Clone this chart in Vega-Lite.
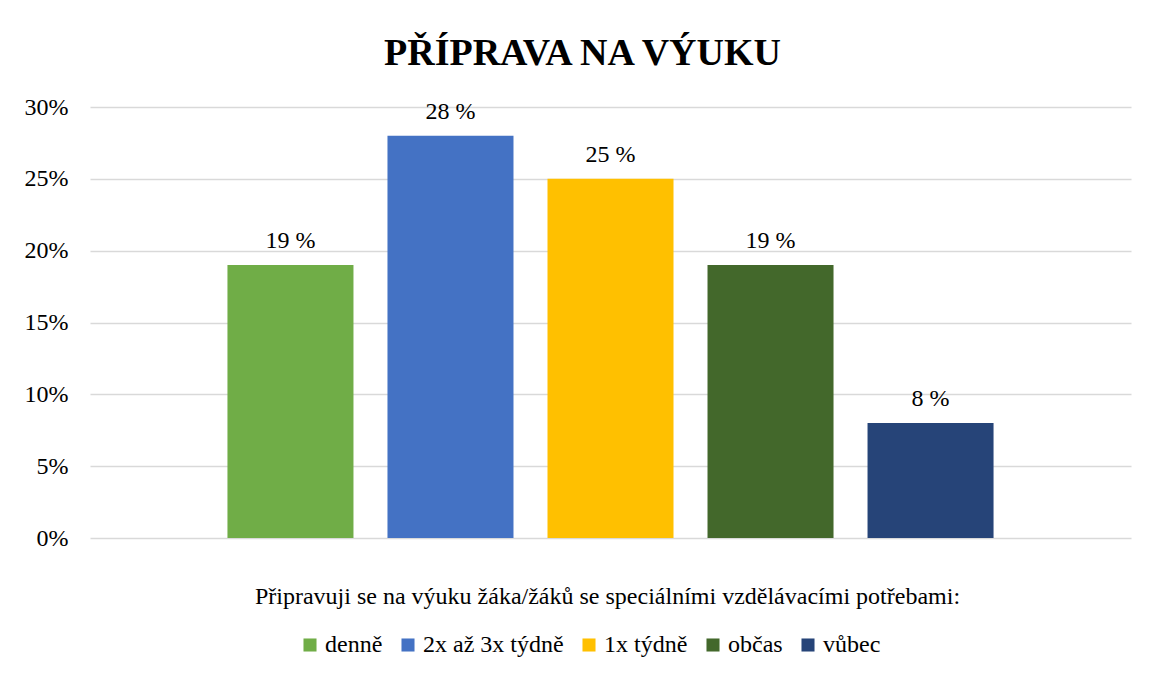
{
  "$schema": "https://vega.github.io/schema/vega-lite/v6.json",
  "autosize": "none",
  "padding": {"left": 90, "top": 107, "right": 18, "bottom": 137},
  "width": 1041,
  "height": 431,
  "background": "white",
  "title": {
    "text": "PŘÍPRAVA NA VÝUKU",
    "font": "Liberation Serif, Times New Roman, serif",
    "fontSize": 38,
    "fontWeight": "bold",
    "color": "#000000",
    "anchor": "middle",
    "baseline": "alphabetic",
    "offset": 42,
    "dx": -28,
    "dy": 50
  },
  "config": {
    "view": {"stroke": null},
    "font": "Liberation Serif, Times New Roman, serif"
  },
  "data": {
    "values": [
      {"kategorie": "denně", "pct": 19},
      {"kategorie": "2x až 3x týdně", "pct": 28},
      {"kategorie": "1x týdně", "pct": 25},
      {"kategorie": "občas", "pct": 19},
      {"kategorie": "vůbec", "pct": 8}
    ]
  },
  "transform": [{"calculate": "datum.pct + ' %'", "as": "popisek"}],
  "encoding": {
    "x": {
      "field": "kategorie",
      "type": "nominal",
      "sort": null,
      "scale": {"paddingInner": 0.2125, "paddingOuter": 0.859},
      "axis": {
        "labels": false,
        "ticks": false,
        "domain": false,
        "title": "Připravuji se na výuku žáka/žáků se speciálními vzdělávacími potřebami:",
        "titleFont": "Liberation Serif, Times New Roman, serif",
        "titleFontSize": 24,
        "titleFontWeight": "normal",
        "titleColor": "#000000",
        "titlePadding": 46,
        "titleX": 517
      }
    },
    "y": {
      "field": "pct",
      "type": "quantitative",
      "scale": {"domain": [0, 30]},
      "axis": {
        "title": null,
        "values": [0, 5, 10, 15, 20, 25, 30],
        "labelExpr": "datum.value + '%'",
        "labelFont": "Liberation Serif, Times New Roman, serif",
        "labelFontSize": 24,
        "labelColor": "#000000",
        "labelPadding": 22,
        "ticks": false,
        "domain": false,
        "grid": true,
        "gridColor": "#d9d9d9",
        "gridWidth": 1.5
      }
    }
  },
  "layer": [
    {
      "mark": {"type": "bar"},
      "encoding": {
        "color": {
          "field": "kategorie",
          "type": "nominal",
          "sort": null,
          "scale": {
            "domain": ["denně", "2x až 3x týdně", "1x týdně", "občas", "vůbec"],
            "range": ["#70AD47", "#4472C4", "#FFC000", "#43682B", "#264478"]
          },
          "legend": {
            "title": null,
            "orient": "none",
            "direction": "horizontal",
            "legendX": 208,
            "legendY": 526,
            "symbolType": "square",
            "symbolSize": 170,
            "symbolStrokeWidth": 0,
            "labelFont": "Liberation Serif, Times New Roman, serif",
            "labelFontSize": 24,
            "labelColor": "#000000",
            "labelOffset": 3,
            "columnPadding": 13,
            "labelLimit": 300
          }
        }
      }
    },
    {
      "mark": {
        "type": "text",
        "font": "Liberation Serif, Times New Roman, serif",
        "fontSize": 24,
        "color": "#000000",
        "baseline": "alphabetic",
        "dy": -17
      },
      "encoding": {
        "text": {"field": "popisek", "type": "nominal"}
      }
    }
  ]
}
